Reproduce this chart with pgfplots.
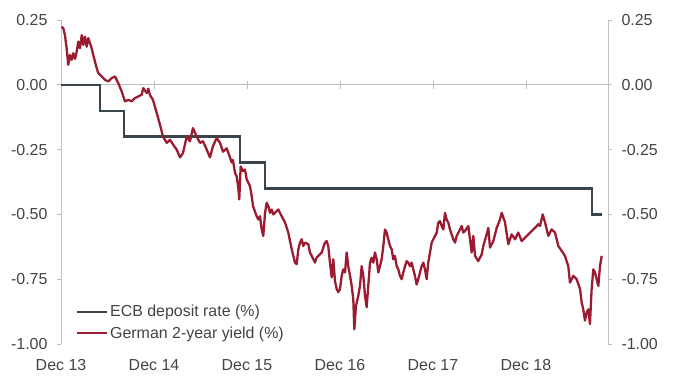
\documentclass[border=0pt]{standalone}
\usepackage{pgfplots}
\pgfplotsset{compat=1.18}
\usepackage{fontspec}
\setmainfont{Liberation Sans}
\definecolor{ecb}{HTML}{3A444B}
\definecolor{bund}{HTML}{9B1B30}
\definecolor{axgray}{HTML}{BFBFBF}
\definecolor{txt}{HTML}{434343}
\pgfplotstableread{
x y
0 0
0.42 -0.1
0.68 -0.2
1.925 -0.3
2.19 -0.4
5.71 -0.5
5.82 -0.5
}\ecbtab
\pgfplotstableread{
x y
0.008 0.224
0.025 0.218
0.043 0.19
0.061 0.14
0.078 0.077
0.097 0.115
0.115 0.096
0.132 0.122
0.151 0.10
0.169 0.128
0.186 0.167
0.204 0.141
0.223 0.192
0.240 0.154
0.258 0.186
0.276 0.147
0.294 0.18
0.312 0.16
0.330 0.141
0.347 0.115
0.384 0.064
0.401 0.045
0.438 0.032
0.473 0.019
0.509 0.013
0.545 0.026
0.581 0.032
0.616 0.006
0.653 -0.026
0.688 -0.064
0.724 -0.058
0.760 -0.064
0.796 -0.051
0.831 -0.045
0.868 -0.038
0.885 -0.013
0.922 -0.032
0.939 -0.015
0.957 -0.04
0.989 -0.058
1.029 -0.108
1.065 -0.155
1.097 -0.2
1.137 -0.224
1.172 -0.212
1.204 -0.23
1.244 -0.25
1.280 -0.28
1.312 -0.263
1.352 -0.2
1.387 -0.218
1.419 -0.167
1.459 -0.2
1.495 -0.224
1.527 -0.218
1.567 -0.25
1.602 -0.28
1.634 -0.237
1.674 -0.205
1.710 -0.224
1.742 -0.258
1.782 -0.245
1.817 -0.28
1.835 -0.30
1.849 -0.29
1.871 -0.34
1.889 -0.353
1.906 -0.397
1.917 -0.442
1.932 -0.315
1.957 -0.333
1.978 -0.327
1.997 -0.365
2.032 -0.391
2.051 -0.43
2.065 -0.468
2.104 -0.507
2.122 -0.52
2.140 -0.507
2.158 -0.558
2.175 -0.583
2.194 -0.494
2.212 -0.455
2.229 -0.468
2.247 -0.494
2.266 -0.481
2.283 -0.5
2.319 -0.487
2.337 -0.481
2.373 -0.507
2.409 -0.531
2.444 -0.57
2.481 -0.635
2.516 -0.686
2.534 -0.692
2.552 -0.635
2.570 -0.609
2.588 -0.596
2.605 -0.622
2.624 -0.609
2.659 -0.615
2.677 -0.647
2.696 -0.66
2.731 -0.686
2.749 -0.667
2.767 -0.66
2.803 -0.647
2.820 -0.628
2.839 -0.609
2.857 -0.603
2.874 -0.622
2.892 -0.686
2.911 -0.743
2.928 -0.673
2.946 -0.757
2.965 -0.788
2.982 -0.8
3.000 -0.788
3.018 -0.737
3.035 -0.712
3.054 -0.724
3.072 -0.647
3.089 -0.70
3.108 -0.737
3.126 -0.776
3.143 -0.827
3.154 -0.943
3.172 -0.853
3.197 -0.814
3.215 -0.776
3.233 -0.70
3.251 -0.737
3.269 -0.814
3.287 -0.858
3.304 -0.776
3.323 -0.686
3.341 -0.667
3.358 -0.686
3.376 -0.647
3.395 -0.673
3.412 -0.724
3.430 -0.70
3.448 -0.673
3.466 -0.622
3.484 -0.558
3.502 -0.57
3.519 -0.596
3.538 -0.622
3.556 -0.635
3.573 -0.673
3.591 -0.66
3.610 -0.70
3.627 -0.712
3.645 -0.737
3.663 -0.75
3.681 -0.724
3.699 -0.70
3.717 -0.68
3.734 -0.686
3.753 -0.70
3.771 -0.686
3.788 -0.712
3.806 -0.737
3.824 -0.77
3.842 -0.75
3.860 -0.724
3.878 -0.70
3.896 -0.686
3.914 -0.712
3.932 -0.75
3.949 -0.686
3.968 -0.647
3.986 -0.609
4.003 -0.596
4.022 -0.583
4.040 -0.57
4.057 -0.532
4.075 -0.526
4.094 -0.545
4.111 -0.558
4.129 -0.494
4.147 -0.52
4.165 -0.532
4.183 -0.558
4.218 -0.596
4.237 -0.609
4.255 -0.583
4.290 -0.558
4.309 -0.545
4.326 -0.57
4.344 -0.564
4.380 -0.545
4.416 -0.647
4.434 -0.583
4.452 -0.66
4.487 -0.68
4.524 -0.654
4.541 -0.622
4.577 -0.577
4.595 -0.552
4.613 -0.628
4.649 -0.603
4.685 -0.552
4.720 -0.52
4.739 -0.494
4.774 -0.53
4.810 -0.615
4.846 -0.577
4.882 -0.596
4.917 -0.57
4.954 -0.603
4.989 -0.59
5.025 -0.577
5.061 -0.564
5.097 -0.552
5.132 -0.538
5.151 -0.545
5.180 -0.5
5.204 -0.53
5.240 -0.583
5.276 -0.558
5.312 -0.57
5.348 -0.622
5.384 -0.641
5.419 -0.66
5.455 -0.70
5.473 -0.763
5.509 -0.737
5.545 -0.75
5.581 -0.788
5.599 -0.84
5.616 -0.866
5.634 -0.91
5.653 -0.878
5.670 -0.866
5.688 -0.923
5.706 -0.788
5.724 -0.712
5.742 -0.724
5.778 -0.776
5.796 -0.70
5.814 -0.66
}\bundtab
\begin{document}
\begin{tikzpicture}
\useasboundingbox (-61bp,-34bp) rectangle (619bp,344bp);
\pgfplotsset{
  common/.style={
    scale only axis, width=547bp, height=324bp,
    xmin=0, xmax=5.882, ymin=-1, ymax=0.25,
    ytick={-1,-0.75,-0.5,-0.25,0,0.25},
    yticklabel style={/pgf/number format/fixed, /pgf/number format/fixed zerofill, /pgf/number format/precision=2, /pgf/number format/assume math mode=true},
    ticklabel style={font=\fontsize{16}{19}\selectfont, text=txt},
    tick style={axgray, line width=0.8pt},
    axis line style={axgray, line width=0.8pt},
    major tick length=4bp,
  }
}
% zero line with centered ticks (drawn first, underneath)
\begin{axis}[common,
  axis y line=none, axis x line=middle,
  x axis line style={-},
  xtick={1,2,3,4,5}, xticklabels={},
  major tick length=8bp, tick align=center,
]
\end{axis}
\begin{axis}[common,
  axis y line*=right, axis x line=none,
  tick align=outside,
  yticklabel style={xshift=6bp},
]
\end{axis}
\begin{axis}[common,
  axis y line*=left, axis x line*=bottom,
  x axis line style={draw=none},
  xtick={0,1,2,3,4,5},
  xticklabels={Dec 13,Dec 14,Dec 15,Dec 16,Dec 17,Dec 18},
  x tick style={draw=none},
  xticklabel style={yshift=-8bp},
  yticklabel style={xshift=-6bp},
  tick align=outside,
  legend style={draw=none, fill=none, at={(0.025,0.003)}, anchor=south west,
    font=\fontsize{16}{19}\selectfont, text=txt, row sep=4.5bp,
    inner sep=1bp},
  legend cell align=left,
  legend image code/.code={\draw[#1] (0bp,0bp)--(30bp,0bp);},
]
\addplot[const plot, ecb, line width=2.3pt] table[x=x,y=y] {\ecbtab};
\addlegendentry{ECB deposit rate (\%)}
\addplot[bund, line width=2.3pt, line join=round] table[x=x,y=y] {\bundtab};
\addlegendentry{German 2-year yield (\%)}
\end{axis}
\end{tikzpicture}
\end{document}
